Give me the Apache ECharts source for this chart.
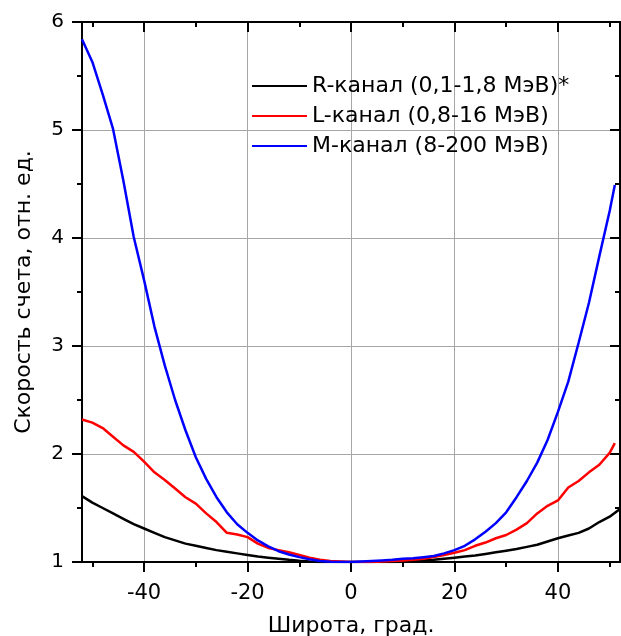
<!DOCTYPE html>
<html>
<head>
<meta charset="utf-8">
<script src="https://cdn.jsdelivr.net/npm/echarts@6/dist/echarts.min.js"></script>
<style>
  html, body { margin: 0; padding: 0; background: #ffffff; }
  #chart { width: 621px; height: 636px; }
</style>
</head>
<body>
<div id="chart"></div>
<script>
// Geomagnetic latitude, degrees
const latitudeR = [-52,-50,-48,-46,-44,-42,-40,-38,-36,-34,-32,-30,-28,-26,-24,-22,-20,-18,-16,-14,-12,-10,-8,-6,-4,-2,0,
  2,4,6,8,10,12,14,16,18,20,22,24,26,28,30,32,34,36,38,40,42,44,46,48,50,52];
const latitudeLM = [-52,-50,-48,-46,-44,-42,-40,-38,-36,-34,-32,-30,-28,-26,-24,-22,-20,-18,-16,-14,-12,-10,-8,-6,-4,-2,0,
  2,4,6,8,10,12,14,16,18,20,22,24,26,28,30,32,34,36,38,40,42,44,46,48,50,51];

// Normalised count rates for each channel
const rateR = [1.61,1.55,1.50,1.45,1.40,1.35,1.31,1.27,1.23,1.20,1.17,1.15,1.13,1.11,1.095,1.08,1.065,1.05,1.04,1.03,1.02,1.012,1.005,1.0,1.0,1.0,1.0,
  1.0,1.0,1.0,1.0,1.003,1.008,1.013,1.02,1.03,1.04,1.05,1.06,1.075,1.09,1.105,1.12,1.14,1.16,1.19,1.22,1.245,1.27,1.31,1.37,1.42,1.49];
const rateL = [2.32,2.29,2.24,2.16,2.08,2.02,1.93,1.83,1.76,1.68,1.60,1.54,1.45,1.37,1.27,1.255,1.23,1.17,1.13,1.11,1.09,1.065,1.04,1.02,1.01,1.005,1.0,
  1.0,1.0,1.005,1.01,1.015,1.02,1.03,1.045,1.065,1.085,1.11,1.15,1.18,1.22,1.25,1.30,1.36,1.45,1.52,1.57,1.69,1.75,1.83,1.90,2.01,2.10];
const rateM = [5.84,5.63,5.33,5.01,4.53,4.01,3.61,3.18,2.82,2.50,2.22,1.97,1.77,1.60,1.46,1.35,1.27,1.20,1.145,1.10,1.07,1.045,1.025,1.01,1.003,1.0,1.0,
  1.005,1.01,1.015,1.02,1.03,1.035,1.045,1.055,1.08,1.11,1.15,1.21,1.28,1.36,1.46,1.60,1.75,1.92,2.13,2.39,2.67,3.03,3.40,3.83,4.25,4.49];

const seriesNames = ['R-канал (0,1-1,8 МэВ)*', 'L-канал (0,8-16 МэВ)', 'M-канал (8-200 МэВ)'];
const seriesColors = ['#000000', '#ff0000', '#0000ff'];

const xMajorTicks = [-40, -20, 0, 20, 40];
const xMinorTicks = [-50, -30, -10, 10, 30, 50];
const xRange = [-52, 52];
const yRange = [1, 6];

const FONT = 'DejaVu Sans';

function pairs(xs, ys) { return xs.map((x, i) => [x, ys[i]]); }

const axisLine = { show: true, onZero: false, lineStyle: { color: '#000', width: 2 } };

function xAxisDef(position, ticks, len, inside, withLabels, withGrid, name) {
  return {
    type: 'value', position: position, min: xRange[0], max: xRange[1],
    axisLine: axisLine,
    axisTick: { show: true, customValues: ticks, length: len, inside: inside, lineStyle: { color: '#000', width: 2 } },
    axisLabel: { show: withLabels, customValues: ticks, margin: 21, color: '#000', fontFamily: FONT, fontSize: 21 },
    splitLine: { show: withGrid, lineStyle: { color: '#a6a6a6', width: 1 } },
    minorTick: { show: false },
    name: name || '', nameLocation: 'middle', nameGap: 53,
    nameTextStyle: { color: '#000', fontFamily: FONT, fontSize: 22 }
  };
}

function yAxisDef(position, inside, withLabels, withGrid, name) {
  return {
    type: 'value', position: position, min: yRange[0], max: yRange[1], interval: 1,
    axisLine: axisLine,
    axisTick: { show: true, length: 10, inside: inside, lineStyle: { color: '#000', width: 2 } },
    minorTick: { show: true, splitNumber: 2, length: 5, lineStyle: { color: '#000', width: 2 } },
    axisLabel: { show: withLabels, margin: 18, color: '#000', fontFamily: FONT, fontSize: 20 },
    splitLine: { show: withGrid, lineStyle: { color: '#a6a6a6', width: 1 } },
    name: name || '', nameLocation: 'middle', nameGap: 47,
    nameTextStyle: { color: '#000', fontFamily: FONT, fontSize: 22 }
  };
}

const chart = echarts.init(document.getElementById('chart'), null, { renderer: 'canvas' });

chart.setOption({
  backgroundColor: '#ffffff',
  animation: false,
  grid: { left: 82, right: 1, top: 22, bottom: 74, containLabel: false, outerBoundsMode: 'none' },
  legend: {
    orient: 'vertical', left: 251, top: 75, padding: 0,
    itemWidth: 55, itemHeight: 14, itemGap: 8,
    itemStyle: { opacity: 0 },
    textStyle: { color: '#000', fontFamily: FONT, fontSize: 22 },
    data: seriesNames
  },
  xAxis: [
    xAxisDef('bottom', xMajorTicks, 10, false, true, true, 'Широта, град.'),
    xAxisDef('bottom', xMinorTicks, 5, false, false, false),
    xAxisDef('top', xMajorTicks, 10, true, false, false),
    xAxisDef('top', xMinorTicks, 5, true, false, false)
  ],
  yAxis: [
    yAxisDef('left', false, true, true, 'Скорость счета, отн. ед.'),
    yAxisDef('right', true, false, false)
  ],
  series: [
    { name: seriesNames[0], type: 'line', data: pairs(latitudeR, rateR) },
    { name: seriesNames[1], type: 'line', data: pairs(latitudeLM, rateL) },
    { name: seriesNames[2], type: 'line', data: pairs(latitudeLM, rateM) }
  ].map((s, i) => Object.assign(s, {
    xAxisIndex: 0, yAxisIndex: 0, symbol: 'none', smooth: false,
    color: seriesColors[i],
    lineStyle: { color: seriesColors[i], width: 2.5 }
  }))
});
</script>
</body>
</html>
